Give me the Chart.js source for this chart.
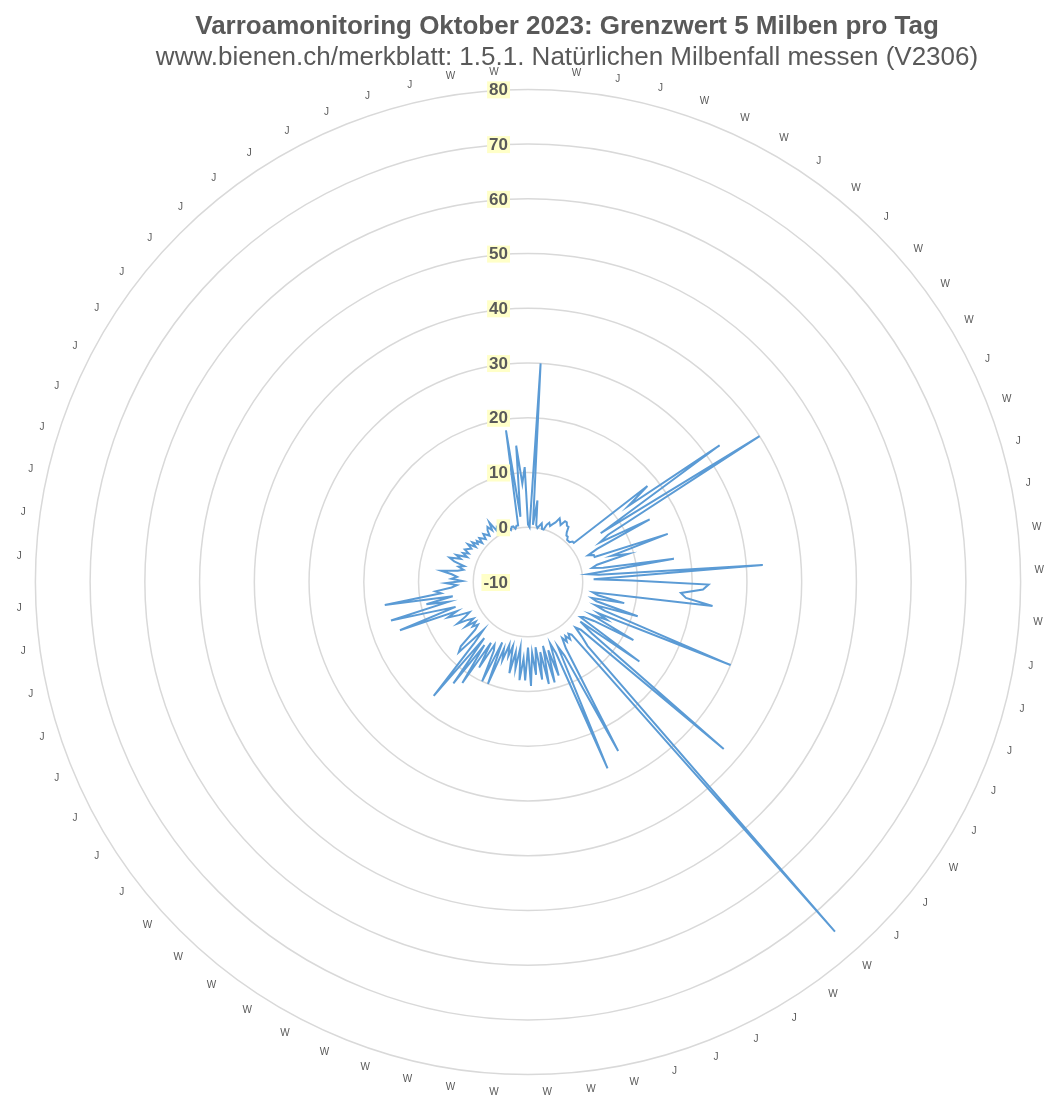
<!DOCTYPE html>
<html>
<head>
<meta charset="utf-8">
<script src="https://cdn.jsdelivr.net/npm/chart.js@4.4.0/dist/chart.umd.min.js"></script>
<style>
  html, body { margin: 0; padding: 0; background: #fff; overflow: hidden; }
  #wrap { width: 1047px; height: 1100px; }
</style>
</head>
<body>
<div id="wrap"><canvas id="varroaChart"></canvas></div>
<script>
// colony type per labelled slot (J = Jungvolk, W = Wirtschaftsvolk), one every 3 categories
const colonyTypes = ['',
  'W','J','J','W','W','W','J','W','J','W',
  'W','W','J','W','J','J','W','W','W','J',
  'J','J','J','J','W','J','J','W','W','J',
  'J','J','J','W','W','W','W','W','W','W',
  'W','W','W','W','W','W',
  'J','J','J','J','J','J','J','J','J','J','J','J',
  'J','J','J','J','J','J','J','J','J','J','J','J',
  'W','W'];

// mites per day, read clockwise from the top
const miteFall = [
  0.5, 0, 30, 0.5, 5, 0.5, 0, 0.5, 1, 0,
  0, 1, 1.5, 1, 1.5, 2, 3, 2.5, 2, 3,
  3, 2.5, 2.5, 1.5, 1, 1, 0.5, 0.5, 0.5, 1,
  1, 18, 13, 33, 6, 40, 7, 5, 15, 4,
  2, 3, 3, 17, 6, 9, 3, 2, 4, 17,
  1, 3, 33, 2, 9, 23, 22, 18, 19, 24,
  2, 3, 8, 2, 3, 11, 3, 5, 30, 4,
  6, 3, 12, 4, 2, 1.5, 15, 2, 5, 37,
  3, 2, 4, 6, 75, 2.5, 2, 3, 2, 3,
  2, 4, 25, 5, 3, 27, 4, 2, 8, 3,
  9, 2, 9, 3, 8, 2, 7, 3, 9, 2,
  8, 4, 8, 2, 6, 3, 7, 2, 4, 2,
  5, 3, 10, 2, 10, 4, 3, 8, 3, 12,
  4, 13, 3, 17, 5, 2, 8, 7, 3, 2,
  3, 2, 4, 2, 3, 5, 3, 2, 4, 6,
  4, 15, 4, 8, 16, 5, 9, 4, 16.5, 6,
  7, 4, 3, 5, 2, 4, 3, 4, 6, 3,
  2, 3, 2, 4, 5, 3, 4, 2, 3, 2,
  3, 2.5, 2, 3, 1.5, 2.5, 1.5, 2, 1, 2,
  1.5, 1, 2, 1.5, 1, 2, 2.5, 1.5, 3, 1,
  1.5, 0.5, 1, 0.5, 0.5, 0, 0.5, 0, 0.5,
  0.5, 0, 0.5, 0.5, 18, 2, 15, 8, 11
];

const tickValues = [-10, 0, 10, 20, 30, 40, 50, 60, 70, 80];

const labels = miteFall.map(function(v, i) { return i % 3 === 0 ? colonyTypes[i / 3] : '' });

Chart.defaults.font.family = '"Liberation Sans", Arial, sans-serif';

// value axis labels sit left of the axis, on a pale yellow box
const tickLabels = {
  id: 'tickLabels',
  afterDatasetsDraw: function(chart) {
    const s = chart.scales.r;
    const ctx = chart.ctx;
    ctx.save();
    ctx.font = 'bold 17px "Liberation Sans", Arial, sans-serif';
    ctx.textAlign = 'right';
    ctx.textBaseline = 'middle';
    tickValues.forEach(function(v) {
      const y = s.yCenter - s.getDistanceFromCenterForValue(v);
      const x = s.xCenter - 20;
      const w = ctx.measureText(String(v)).width;
      ctx.fillStyle = '#ffffc8';
      ctx.fillRect(x - w - 2, y - 8, w + 4, 17);
      ctx.fillStyle = '#595959';
      ctx.fillText(String(v), x, y + 1);
    });
    ctx.restore();
  }
};

// titles are centred a bit right of the plot centre
const shiftTitles = {
  id: 'shiftTitles',
  afterLayout: function(chart) {
    chart.boxes.forEach(function(b) {
      if (b.position === 'top' && b.options && typeof b.options.text === 'string') {
        b.left += 36;
        b.right += 36;
      }
    });
  }
};

new Chart(document.getElementById('varroaChart'), {
  type: 'radar',
  data: {
    labels: labels,
    datasets: [{
      label: 'Milbenfall',
      data: miteFall,
      borderColor: '#5b9bd5',
      borderWidth: 2,
      fill: false,
      pointRadius: 0,
      pointHoverRadius: 0,
      tension: 0
    }]
  },
  options: {
    responsive: true,
    maintainAspectRatio: false,
    animation: false,
    layout: { padding: { left: 15, right: 0, top: 0, bottom: 0 } },
    plugins: {
      legend: { display: false },
      tooltip: { enabled: false },
      title: {
        display: true,
        text: 'Varroamonitoring Oktober 2023: Grenzwert 5 Milben pro Tag',
        color: '#595959',
        font: { size: 26, weight: 'bold' },
        padding: { top: 11, bottom: 0 }
      },
      subtitle: {
        display: true,
        text: 'www.bienen.ch/merkblatt: 1.5.1. Natürlichen Milbenfall messen (V2306)',
        color: '#595959',
        font: { size: 26 },
        padding: { top: 0, bottom: -9 }
      }
    },
    scales: {
      r: {
        min: -10,
        max: 80,
        ticks: { stepSize: 10, display: false },
        grid: { circular: true, color: '#d9d9d9', lineWidth: 1.5 },
        angleLines: { display: false },
        pointLabels: { color: '#595959', font: { size: 10, lineHeight: 0.8 }, padding: 14 }
      }
    }
  },
  plugins: [tickLabels, shiftTitles]
});
</script>
</body>
</html>
